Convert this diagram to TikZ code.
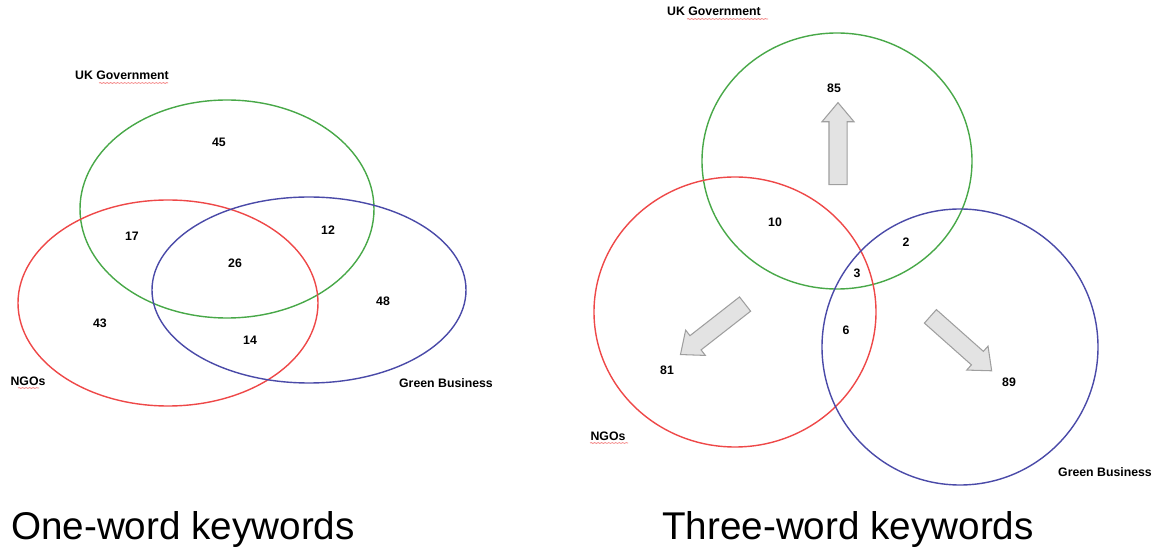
\documentclass[tikz,border=0pt]{standalone}
\usepackage{fontspec}
\setmainfont{Liberation Sans}
\usepackage{tikz}
\usetikzlibrary{shapes.arrows, decorations.pathmorphing}
\definecolor{govGreen}{RGB}{72, 168, 72}
\definecolor{ngoRed}{RGB}{238, 72, 72}
\definecolor{bizBlue}{RGB}{74, 74, 168}

\begin{document}
\begin{tikzpicture}[
    x=0.02cm, y=-0.02cm,
    every node/.style={font=\fontsize{7}{8}\selectfont\bfseries},
    setline/.style={line width=0.8pt},
    count/.style={inner sep=1pt},
    setlabel/.style={inner sep=1pt},
    title/.style={font=\fontsize{22}{26}\selectfont},
    moveArrow/.style={single arrow, draw=gray!75, fill=gray!22, line width=0.6pt,
        minimum height=1.64cm, text height=0pt, text depth=0pt,
        inner xsep=0pt, inner ysep=0.17cm,
        single arrow head extend=0.14cm, single arrow tip angle=80},
    spellmark/.style={draw=ngoRed!70, line width=0.4pt,
        decorate, decoration={snake, amplitude=0.25pt, segment length=2pt}},
]
\useasboundingbox (0,0) rectangle (1160,550);

% one-word keywords
\coordinate (govL) at (227,209);
\coordinate (ngoL) at (168,303);
\coordinate (bizL) at (309,290);
\draw[setline, govGreen] (govL) ellipse [x radius=147, y radius=109];
\draw[setline, ngoRed] (ngoL) ellipse [x radius=150, y radius=103];
\draw[setline, bizBlue] (bizL) ellipse [x radius=157, y radius=93];
\node[count] (l45) at (219,142) {45};
\node[count] (l17) at (132,236) {17};
\node[count] (l12) at (328,230) {12};
\node[count] (l26) at (235,263) {26};
\node[count] (l48) at (383,301) {48};
\node[count] (l43) at (100,323) {43};
\node[count] (l14) at (250,340) {14};
\node[setlabel] (govLabelL) at (122,75) {UK Government};
\node[setlabel] (ngoLabelL) at (28,381) {NGOs};
\node[setlabel] (bizLabelL) at (446,383) {Green Business};
\draw[spellmark] (99,83) -- (168,83);
\draw[spellmark] (18,388) -- (39,388);
\node[title] (oneWord) at (183,530) {One-word keywords};

% three-word keywords
\coordinate (govR) at (837,161);
\coordinate (ngoR) at (735,312);
\coordinate (bizR) at (960,347);
\draw[setline, govGreen] (govR) ellipse [x radius=135, y radius=128];
\draw[setline, ngoRed] (ngoR) ellipse [x radius=141, y radius=135];
\draw[setline, bizBlue] (bizR) ellipse [x radius=138, y radius=138];
\node[count] (r85) at (834,88) {85};
\node[count] (r10) at (775,222) {10};
\node[count] (r2) at (906,242) {2};
\node[count] (r3) at (857,273) {3};
\node[count] (r6) at (846,330) {6};
\node[count] (r81) at (667,370) {81};
\node[count] (r89) at (1009,382) {89};
\node[moveArrow, rotate=90] (toGov) at (838,149) {};
\node[moveArrow, rotate=218] (toNgo) at (717,326) {};
\node[moveArrow, rotate=-41.6] (toBiz) at (957,340) {};
\node[setlabel] (govLabelR) at (714,11) {UK Government};
\node[setlabel] (ngoLabelR) at (608,436) {NGOs};
\node[setlabel] (bizLabelR) at (1105,472) {Green Business};
\draw[spellmark] (687,19) -- (768,19);
\draw[spellmark] (590,443) -- (628,443);
\node[title] (threeWord) at (848,530) {Three-word keywords};
\end{tikzpicture}
\end{document}
